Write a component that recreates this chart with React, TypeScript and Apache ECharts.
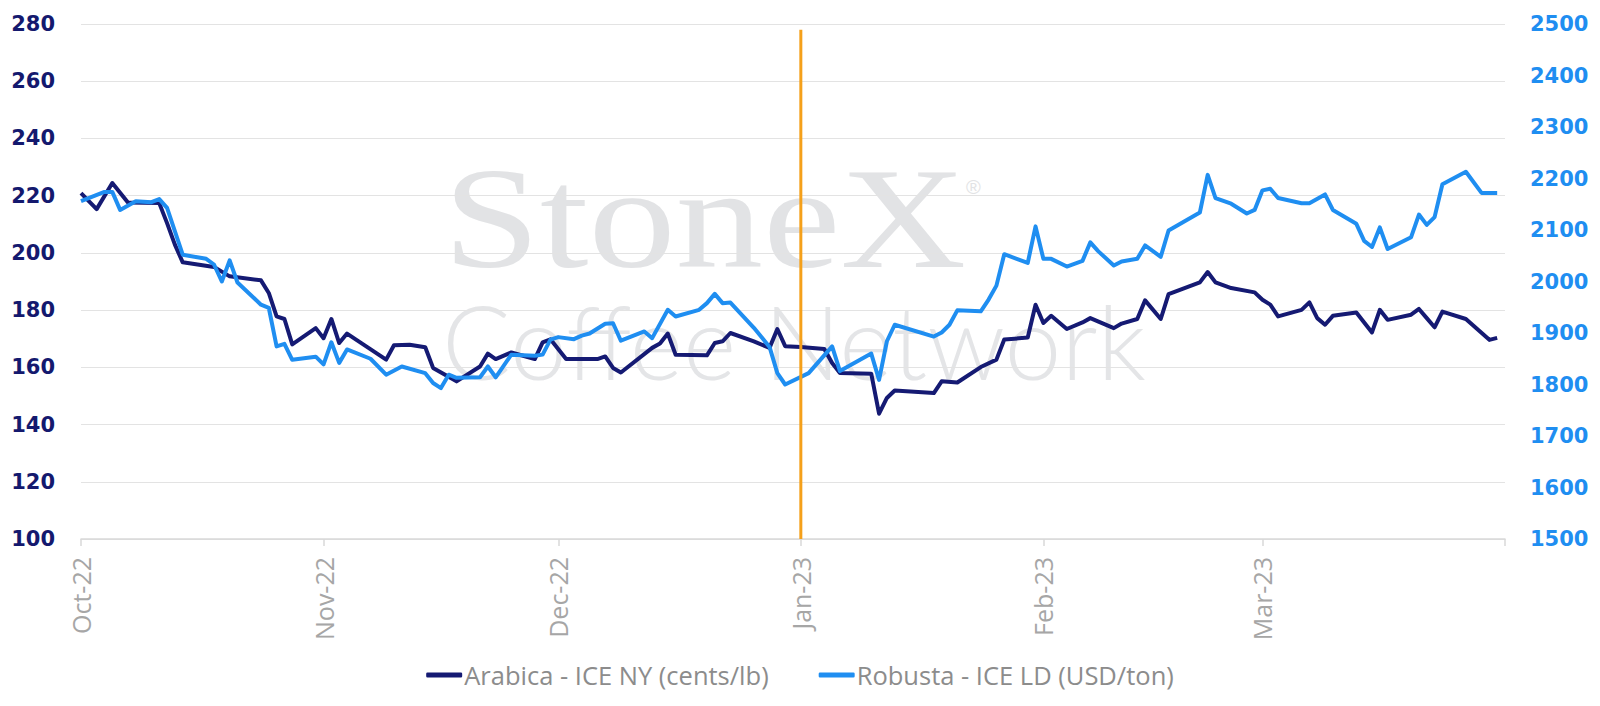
import React, { useEffect, useRef } from 'react';
import * as echarts from 'echarts';

// ---------- data ----------
const ARABICA_DATES = [
  '2022-10-01','2022-10-03','2022-10-05','2022-10-07','2022-10-11','2022-10-12','2022-10-13','2022-10-14','2022-10-18','2022-10-20',
  '2022-10-24','2022-10-25','2022-10-26','2022-10-27','2022-10-28','2022-10-31','2022-11-01','2022-11-02','2022-11-03','2022-11-04',
  '2022-11-09','2022-11-10','2022-11-12','2022-11-14','2022-11-15','2022-11-18','2022-11-21','2022-11-22','2022-11-23','2022-11-25',
  '2022-11-28','2022-11-29','2022-11-30','2022-12-02','2022-12-06','2022-12-07','2022-12-08','2022-12-09','2022-12-13','2022-12-14',
  '2022-12-15','2022-12-16','2022-12-20','2022-12-21','2022-12-22','2022-12-23','2022-12-26','2022-12-28','2022-12-29','2022-12-30',
  '2023-01-01','2023-01-04','2023-01-05','2023-01-06','2023-01-10','2023-01-11','2023-01-12','2023-01-13','2023-01-18','2023-01-19',
  '2023-01-21','2023-01-24','2023-01-26','2023-01-27','2023-01-30','2023-01-31','2023-02-01','2023-02-02','2023-02-04','2023-02-06',
  '2023-02-07','2023-02-10','2023-02-11','2023-02-13','2023-02-14','2023-02-16','2023-02-17','2023-02-21','2023-02-22','2023-02-23',
  '2023-02-25','2023-02-28','2023-03-01','2023-03-02','2023-03-03','2023-03-06','2023-03-07','2023-03-08','2023-03-09','2023-03-10',
  '2023-03-13','2023-03-15','2023-03-16','2023-03-17','2023-03-20','2023-03-21','2023-03-22','2023-03-23','2023-03-24','2023-03-27',
  '2023-03-30','2023-03-31',
];
const ARABICA_VALUES = [
  220.9,215.3,224.4,217.6,217.4,210.4,202.9,196.7,195.1,191.8,
  190.4,186.0,177.8,176.9,168.0,173.7,170.2,176.9,168.5,171.8,
  162.7,167.7,167.9,167.0,159.8,155.1,160.3,164.8,162.9,165.2,
  162.9,168.7,169.8,162.9,162.9,163.8,159.8,158.2,166.8,168.3,
  171.8,164.4,164.2,168.5,169.1,172.0,169.1,166.8,173.4,167.4,
  167.1,166.4,161.5,158.0,157.8,143.8,149.3,151.9,151.0,155.1,
  154.7,160.1,162.7,169.7,170.4,181.9,175.5,178.0,173.4,175.7,
  177.2,173.7,175.3,176.9,183.4,176.9,185.6,189.7,193.3,189.7,
  187.7,186.2,183.6,181.9,177.8,180.1,182.7,177.2,174.9,178.0,
  179.2,172.2,180.1,176.6,178.4,180.4,177.2,174.0,179.5,176.9,
  169.6,170.3,
];

const ROBUSTA_DATES = [
  '2022-10-01','2022-10-04','2022-10-05','2022-10-06','2022-10-08','2022-10-10','2022-10-11','2022-10-12','2022-10-14','2022-10-17',
  '2022-10-18','2022-10-19','2022-10-20','2022-10-21','2022-10-24','2022-10-25','2022-10-26','2022-10-27','2022-10-28','2022-10-31',
  '2022-11-01','2022-11-02','2022-11-03','2022-11-04','2022-11-07','2022-11-09','2022-11-11','2022-11-14','2022-11-15','2022-11-16',
  '2022-11-17','2022-11-18','2022-11-21','2022-11-22','2022-11-23','2022-11-25','2022-11-28','2022-11-29','2022-11-30','2022-12-01',
  '2022-12-03','2022-12-04','2022-12-05','2022-12-07','2022-12-08','2022-12-09','2022-12-12','2022-12-13','2022-12-15','2022-12-16',
  '2022-12-19','2022-12-20','2022-12-21','2022-12-22','2022-12-23','2022-12-26','2022-12-28','2022-12-29','2022-12-30','2023-01-02',
  '2023-01-05','2023-01-06','2023-01-10','2023-01-11','2023-01-12','2023-01-13','2023-01-18','2023-01-19','2023-01-20','2023-01-21',
  '2023-01-24','2023-01-25','2023-01-26','2023-01-27','2023-01-30','2023-01-31','2023-02-01','2023-02-02','2023-02-04','2023-02-06',
  '2023-02-07','2023-02-08','2023-02-10','2023-02-11','2023-02-13','2023-02-14','2023-02-16','2023-02-17','2023-02-21','2023-02-22',
  '2023-02-23','2023-02-25','2023-02-27','2023-02-28','2023-03-01','2023-03-02','2023-03-03','2023-03-06','2023-03-07','2023-03-09',
  '2023-03-10','2023-03-13','2023-03-14','2023-03-15','2023-03-16','2023-03-17','2023-03-20','2023-03-21','2023-03-22','2023-03-23',
  '2023-03-24','2023-03-27','2023-03-29','2023-03-31',
];
const ROBUSTA_VALUES = [
  2156,2174,2174,2139,2156,2154,2160,2143,2052,2044,
  2033,2000,2041,1998,1955,1949,1874,1879,1848,1854,
  1839,1882,1842,1868,1850,1819,1835,1822,1803,1793,
  1819,1813,1814,1835,1814,1858,1856,1858,1887,1892,
  1888,1895,1899,1918,1919,1885,1903,1890,1945,1932,
  1945,1958,1976,1958,1959,1910,1873,1822,1800,1822,
  1874,1826,1860,1809,1884,1916,1893,1901,1916,1944,
  1942,1965,1992,2053,2036,2107,2044,2044,2029,2040,
  2076,2059,2031,2039,2044,2070,2048,2099,2134,2207,
  2162,2151,2132,2139,2177,2180,2162,2152,2152,2169,
  2139,2112,2079,2067,2105,2063,2086,2130,2110,2125,
  2189,2213,2172,2172,
];

const ARABICA_NAME = 'Arabica - ICE NY (cents/lb)';
const ROBUSTA_NAME = 'Robusta - ICE LD (USD/ton)';

const LEFT_AXIS = { min: 100, max: 280, interval: 20 };
const RIGHT_AXIS = { min: 1500, max: 2500, interval: 100 };
const X_RANGE = ['2022-10-01', '2023-04-01'];
const MONTHS = ['Jan','Feb','Mar','Apr','May','Jun','Jul','Aug','Sep','Oct','Nov','Dec'];

const EVENT_DATE = '2023-01-01';
const EVENT_RANGE = [100, 278];

// ---------- styles ----------
const ARABICA_COLOR = '#151a73';
const ROBUSTA_COLOR = '#1f8ef1';
const EVENT_COLOR = '#f5a01a';
const DAY = 24 * 3600 * 1000;

const toTime = (s: string) => new Date(s + 'T00:00:00').getTime();

export default function App() {
  const ref = useRef<HTMLDivElement>(null);

  useEffect(() => {
    const el = ref.current;
    if (!el) return;
    const chart = echarts.init(el, null, { renderer: 'svg' });

    const arabica = ARABICA_DATES.map((d, i) => [toTime(d), ARABICA_VALUES[i]]);
    const robusta = ROBUSTA_DATES.map((d, i) => [toTime(d), ROBUSTA_VALUES[i]]);
    const eventLine = EVENT_RANGE.map((v) => [toTime(EVENT_DATE), v]);
    const xMax = toTime(X_RANGE[1]);

    const option: any = {
      animation: false,
      backgroundColor: '#ffffff',
      grid: { left: 81, right: 95, top: 24, bottom: 167, containLabel: false, outerBoundsMode: 'none' },
      graphic: {
        elements: [
          {
            type: 'text', z: -10, silent: true,
            x: 443, y: 219, scaleX: 1.22,
            style: { text: 'StoneX', font: '143px "Liberation Serif"', fill: '#e2e3e5', verticalAlign: 'middle', align: 'left' },
          },
          {
            type: 'text', z: -10, silent: true,
            x: 966, y: 187,
            style: { text: '®', font: '20px "Liberation Sans"', fill: '#e2e3e5', verticalAlign: 'middle', align: 'left' },
          },
          {
            type: 'text', z: -10, silent: true,
            x: 442, y: 340,
            style: { text: 'Coffee Network', font: '300 102px Lato', fill: '#e4e5e7', verticalAlign: 'middle', align: 'left' },
          },
        ],
      },
      legend: {
        data: [ARABICA_NAME, ROBUSTA_NAME],
        top: 657,
        left: 'center',
        itemWidth: 36,
        itemHeight: 5,
        itemGap: 50,
        icon: 'roundRect',
        textStyle: { color: '#8c8c8c', fontSize: 25.5, fontFamily: 'Open Sans', padding: [0, 0, 0, -3] },
      },
      xAxis: {
        type: 'time',
        min: toTime(X_RANGE[0]),
        max: xMax,
        minInterval: 28 * DAY,
        maxInterval: 31 * DAY,
        axisLine: { show: true, lineStyle: { color: '#d9d9d9', width: 1.5 } },
        axisTick: { show: true, length: 7, lineStyle: { color: '#d9d9d9', width: 1.5 } },
        splitLine: { show: false },
        axisLabel: {
          rotate: 90,
          color: '#a6a6a6',
          fontSize: 25,
          fontFamily: 'Open Sans',
          margin: 18,
          formatter: (value: number) => {
            if (value >= xMax) return '';
            const d = new Date(value);
            return `${MONTHS[d.getMonth()]}-${String(d.getFullYear()).slice(2)}`;
          },
        },
      },
      yAxis: [
        {
          type: 'value',
          position: 'left',
          min: LEFT_AXIS.min, max: LEFT_AXIS.max, interval: LEFT_AXIS.interval,
          axisLine: { show: false },
          axisTick: { show: false },
          splitLine: { show: true, lineStyle: { color: '#e3e3e3', width: 1.2 } },
          axisLabel: {
            color: '#14196e', fontSize: 21, fontWeight: 'bold', fontFamily: 'DejaVu Sans', margin: 26,
            formatter: (v: number) => String(v),
          },
        },
        {
          type: 'value',
          position: 'right',
          min: RIGHT_AXIS.min, max: RIGHT_AXIS.max, interval: RIGHT_AXIS.interval,
          axisLine: { show: false },
          axisTick: { show: false },
          splitLine: { show: false },
          axisLabel: {
            color: ROBUSTA_COLOR, fontSize: 21, fontWeight: 'bold', fontFamily: 'DejaVu Sans', margin: 25,
            formatter: (v: number) => String(v),
          },
        },
      ],
      series: [
        {
          name: ARABICA_NAME, type: 'line', yAxisIndex: 0, data: arabica,
          showSymbol: false, symbol: 'none', z: 2,
          lineStyle: { color: ARABICA_COLOR, width: 4, join: 'round' },
          itemStyle: { color: ARABICA_COLOR },
        },
        {
          name: ROBUSTA_NAME, type: 'line', yAxisIndex: 1, data: robusta,
          showSymbol: false, symbol: 'none', z: 3,
          lineStyle: { color: ROBUSTA_COLOR, width: 4, join: 'round' },
          itemStyle: { color: ROBUSTA_COLOR },
        },
        {
          name: 'event', type: 'line', yAxisIndex: 0, data: eventLine,
          showSymbol: false, symbol: 'none', z: 4, silent: true,
          lineStyle: { color: EVENT_COLOR, width: 3 },
          itemStyle: { color: EVENT_COLOR },
        },
      ],
    };

    chart.setOption(option);
    return () => chart.dispose();
  }, []);

  return (
    <div
      ref={ref}
      style={{ position: 'fixed', left: 0, top: 0, width: 1600, height: 706, background: '#fff' }}
    />
  );
}
